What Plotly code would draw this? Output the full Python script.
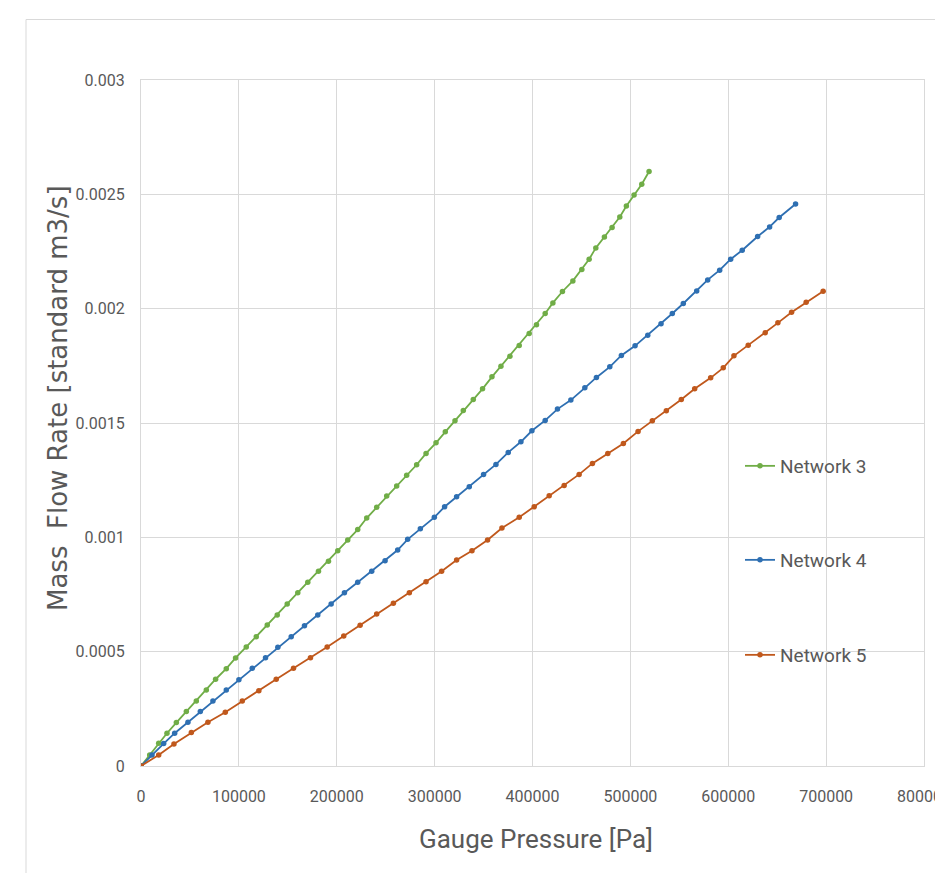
import plotly.graph_objects as go

# ---------------- data ----------------
net3_p = [0, 8877, 18061, 26530, 36122, 46326, 56530, 66734, 76224, 87142, 96632,
          107550, 117755, 128979, 139183, 149387, 160203, 170407, 181325, 191530,
          201019, 211223, 221427, 230610, 240814, 251019, 261223, 271427, 281632,
          291224, 301428, 310918, 320816, 329286, 339490, 348980, 358572, 367755,
          376939, 386429, 396633, 404078, 412958, 420815, 430611, 441223, 450407,
          457856, 464693, 473468, 481325, 489182, 495917, 503774, 511631, 519080]
net3_q = [0, 4.85e-5, 9.96e-5, 1.434e-4, 1.897e-4, 2.378e-4, 2.845e-4, 3.326e-4,
          3.794e-4, 4.257e-4, 4.725e-4, 5.205e-4, 5.655e-4, 6.167e-4, 6.604e-4,
          7.085e-4, 7.579e-4, 8.033e-4, 8.514e-4, 8.951e-4, 9.414e-4, 9.882e-4,
          1.0340e-3, 1.0843e-3, 1.1311e-3, 1.1805e-3, 1.2242e-3, 1.2710e-3,
          1.3173e-3, 1.3671e-3, 1.4134e-3, 1.4615e-3, 1.5096e-3, 1.5551e-3,
          1.6031e-3, 1.6495e-3, 1.7019e-3, 1.7487e-3, 1.7924e-3, 1.8391e-3,
          1.8916e-3, 1.9292e-3, 1.9790e-3, 2.0253e-3, 2.0751e-3, 2.1215e-3,
          2.1713e-3, 2.2163e-3, 2.2657e-3, 2.3138e-3, 2.3549e-3, 2.4012e-3,
          2.4493e-3, 2.4974e-3, 2.5441e-3, 2.5996e-3]

net4_p = [0, 11224, 23163, 34386, 47959, 60612, 73469, 87142, 100000, 113674,
          127245, 139796, 153470, 167041, 180612, 194286, 207857, 221428, 235714,
          249388, 262245, 272447, 285408, 299694, 310204, 322449, 335408, 350000,
          362653, 375204, 388163, 399388, 412959, 425510, 439184, 453470, 465306,
          478980, 490816, 504796, 517755, 531327, 542857, 554082, 567755, 578979,
          591224, 602449, 614286, 630000, 642245, 652041, 668776]
net4_q = [0, 4.85e-5, 9.79e-5, 1.434e-4, 1.914e-4, 2.378e-4, 2.845e-4, 3.326e-4,
          3.776e-4, 4.274e-4, 4.738e-4, 5.192e-4, 5.655e-4, 6.136e-4, 6.604e-4,
          7.085e-4, 7.579e-4, 8.033e-4, 8.514e-4, 8.977e-4, 9.445e-4, 9.912e-4,
          1.0376e-3, 1.0874e-3, 1.1337e-3, 1.1774e-3, 1.2211e-3, 1.2753e-3,
          1.3190e-3, 1.3715e-3, 1.4178e-3, 1.4659e-3, 1.5113e-3, 1.5607e-3,
          1.6001e-3, 1.6538e-3, 1.6993e-3, 1.7456e-3, 1.7954e-3, 1.8374e-3,
          1.8842e-3, 1.9335e-3, 1.9790e-3, 2.0227e-3, 2.0778e-3, 2.1259e-3,
          2.1683e-3, 2.2163e-3, 2.2557e-3, 2.3155e-3, 2.3575e-3, 2.3986e-3,
          2.4580e-3]

net5_p = [0, 18061, 33673, 51428, 68367, 86122, 103469, 120408, 138163, 155816,
          173163, 190204, 207143, 223878, 240816, 257857, 274184, 291224, 307143,
          322449, 338163, 354082, 368776, 386429, 401735, 417041, 432347, 447653,
          461224, 476939, 492857, 507857, 522449, 536735, 552041, 565714, 582041,
          594898, 605816, 620408, 637755, 650714, 664694, 679592, 696939]
net5_q = [0, 4.85e-5, 9.66e-5, 1.460e-4, 1.914e-4, 2.351e-4, 2.845e-4, 3.295e-4,
          3.794e-4, 4.274e-4, 4.738e-4, 5.205e-4, 5.686e-4, 6.154e-4, 6.648e-4,
          7.115e-4, 7.579e-4, 8.059e-4, 8.514e-4, 9.008e-4, 9.414e-4, 9.882e-4,
          1.0406e-3, 1.0874e-3, 1.1337e-3, 1.1818e-3, 1.2272e-3, 1.2753e-3,
          1.3234e-3, 1.3671e-3, 1.4108e-3, 1.4633e-3, 1.5096e-3, 1.5533e-3,
          1.6031e-3, 1.6495e-3, 1.6975e-3, 1.7412e-3, 1.7937e-3, 1.8405e-3,
          1.8942e-3, 1.9379e-3, 1.9847e-3, 2.0284e-3, 2.0765e-3]

series_names = ["Network 3", "Network 4", "Network 5"]
series_colors = ["#70AD47", "#2E6FB2", "#C0581C"]

x_tickvals = [0, 100000, 200000, 300000, 400000, 500000, 600000, 700000, 800000]
x_ticktext = ["0", "100000", "200000", "300000", "400000", "500000", "600000", "700000", "800000"]
y_tickvals = [0, 0.0005, 0.001, 0.0015, 0.002, 0.0025, 0.003]
y_ticktext = ["0", "0.0005", "0.001", "0.0015", "0.002", "0.0025", "0.003"]

x_title = "Gauge Pressure [Pa]"
y_title = "Mass  Flow Rate [standard m3/s]"

# ---------------- figure ----------------
FONT = "Roboto, sans-serif"
GRAY = "#595959"
GRID = "#D9D9D9"

W, H = 935, 873
L, R, T, B = 141, 11, 80, 107
pw, ph = W - L - R, H - T - B

def px_to_paper_x(px):
    return (px - L) / pw

def px_to_paper_y(py):
    return (H - B - py) / ph

fig = go.Figure()
legend_ids = ["legend", "legend2", "legend3"]
for name, color, xs, ys, lid in zip(series_names, series_colors,
                                    [net3_p, net4_p, net5_p],
                                    [net3_q, net4_q, net5_q], legend_ids):
    fig.add_trace(go.Scatter(
        x=xs, y=ys, name=name, mode="lines+markers",
        line=dict(color=color, width=1.8),
        marker=dict(color=color, size=5.5, symbol="circle"),
        legend=lid,
    ))

legend_y_px = [466, 560, 655]
legend_common = dict(
    xanchor="left", yanchor="middle", bgcolor="rgba(0,0,0,0)",
    font=dict(family=FONT, size=19, color=GRAY),
    itemwidth=30, borderwidth=0,
)

fig.update_layout(
    width=W, height=H,
    margin=dict(l=L, r=R, t=T, b=B, autoexpand=False),
    paper_bgcolor="white", plot_bgcolor="white",
    showlegend=True,
    legend=dict(x=px_to_paper_x(740), y=px_to_paper_y(legend_y_px[0]), **legend_common),
    legend2=dict(x=px_to_paper_x(740), y=px_to_paper_y(legend_y_px[1]), **legend_common),
    legend3=dict(x=px_to_paper_x(740), y=px_to_paper_y(legend_y_px[2]), **legend_common),
    xaxis=dict(
        range=[0, 800000], tickvals=x_tickvals, ticktext=x_ticktext,
        showgrid=True, gridcolor=GRID, gridwidth=1,
        zeroline=False, showline=True, linecolor=GRID, linewidth=1, mirror=True,
        ticks="", ticklabelstandoff=16, ticklabeloverflow="allow",
        tickfont=dict(family=FONT, size=16, color=GRAY),
        automargin=False,
    ),
    yaxis=dict(
        range=[0, 0.003], tickvals=y_tickvals, ticktext=y_ticktext,
        showgrid=True, gridcolor=GRID, gridwidth=1,
        zeroline=False, showline=True, linecolor=GRID, linewidth=1, mirror=True,
        ticks="", ticklabelstandoff=12, ticklabeloverflow="allow",
        tickfont=dict(family=FONT, size=16, color=GRAY),
        automargin=False,
    ),
    annotations=[
        dict(text=x_title, xref="paper", yref="paper",
             x=px_to_paper_x(536), y=px_to_paper_y(839),
             xanchor="center", yanchor="middle", showarrow=False,
             font=dict(family=FONT, size=26, color=GRAY)),
        dict(text=y_title, xref="paper", yref="paper",
             x=px_to_paper_x(58), y=px_to_paper_y(398),
             xanchor="center", yanchor="middle", showarrow=False, textangle=-90,
             font=dict(family="DejaVu Sans", size=26, color=GRAY)),
    ],
    shapes=[
        dict(type="line", xref="paper", yref="paper",
             x0=px_to_paper_x(26), x1=px_to_paper_x(960),
             y0=px_to_paper_y(19.5), y1=px_to_paper_y(19.5),
             line=dict(color=GRID, width=1)),
        dict(type="line", xref="paper", yref="paper",
             x0=px_to_paper_x(26), x1=px_to_paper_x(26),
             y0=px_to_paper_y(19.5), y1=px_to_paper_y(900),
             line=dict(color=GRID, width=1)),
    ],
)

fig.write_html("out.html")
